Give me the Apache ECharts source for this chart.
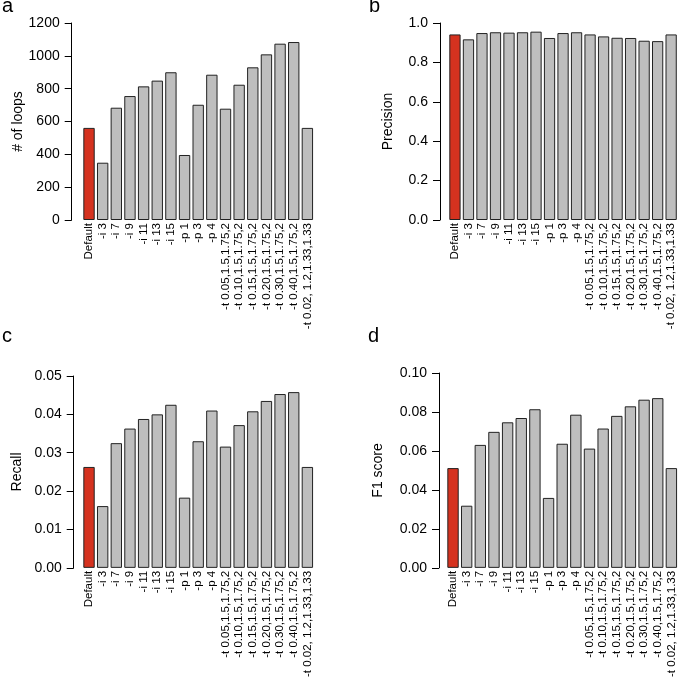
<!DOCTYPE html>
<html>
<head>
<meta charset="utf-8">
<script src="https://cdn.jsdelivr.net/npm/echarts@6/dist/echarts.min.js"></script>
<style>html,body{margin:0;padding:0;background:#fff}#c{width:679px;height:680px}</style>
</head>
<body>
<div id="c"></div>
<script>
const categories = ["Default","-i 3","-i 7","-i 9","-i 11","-i 13","-i 15","-p 1","-p 3","-p 4",
  "-t 0.05,1.5,1.75,2","-t 0.10,1.5,1.75,2","-t 0.15,1.5,1.75,2","-t 0.20,1.5,1.75,2",
  "-t 0.30,1.5,1.75,2","-t 0.40,1.5,1.75,2","-t 0.02, 1.2,1.33,1.33"];
const loops = [561,349,684,755,814,849,900,396,702,885,678,824,930,1009,1074,1084,561];
const precision = [0.942,0.917,0.949,0.953,0.951,0.953,0.956,0.924,0.949,0.953,0.942,0.932,0.925,0.924,0.910,0.908,0.942];
const recall = [0.0263,0.0161,0.0325,0.0363,0.0388,0.0400,0.0425,0.0183,0.0330,0.0410,0.0316,0.0372,0.0408,0.0435,0.0453,0.0458,0.0263];
const f1 = [0.0512,0.0319,0.0631,0.0698,0.0747,0.0769,0.0814,0.0359,0.0637,0.0786,0.0612,0.0715,0.0780,0.0829,0.0863,0.0871,0.0512];
const yTicksA = [0,1200,200], yTicksB = [0,1,0.2], yTicksC = [0,0.05,0.01], yTicksD = [0,0.1,0.02];

const FONT = "'Liberation Sans', Arial, Helvetica, sans-serif";
const RED = '#D5321F', GRAY = '#BEBEBE';

const grids = [
  {left: 82.2, top: 23, width: 232, height: 197},
  {left: 448.2, top: 23, width: 229.7, height: 197},
  {left: 82.2, top: 376, width: 232, height: 197},
  {left: 446.2, top: 373, width: 232, height: 197}
];
const yDefs = [
  {t: yTicksA, dec: 0, name: '# of loops', gap: 47, off: 10.5},
  {t: yTicksB, dec: 1, name: 'Precision', gap: 45, off: 8.2},
  {t: yTicksC, dec: 2, name: 'Recall', gap: 50, off: 8.5},
  {t: yTicksD, dec: 2, name: 'F1 score', gap: 54, off: 7.2}
];
const dataSets = [loops, precision, recall, f1];

const option = {
  animation: false,
  backgroundColor: '#fff',
  textStyle: {fontFamily: FONT},
  grid: grids.map(g => Object.assign({containLabel: false}, g)),
  xAxis: grids.map((g, i) => ({
    type: 'category', gridIndex: i, data: categories, boundaryGap: true,
    axisLine: {show: false}, axisTick: {show: false}, splitLine: {show: false},
    axisLabel: {rotate: 90, interval: 0, fontSize: 11.5, color: '#000', margin: 3, fontFamily: FONT}
  })),
  yAxis: yDefs.map((d, i) => ({
    type: 'value', gridIndex: i, min: d.t[0], max: d.t[1], interval: d.t[2],
    offset: d.off,
    name: d.name, nameLocation: 'middle', nameGap: d.gap, nameMoveOverlap: false,
    nameTextStyle: {fontSize: 14, color: '#000', fontFamily: FONT},
    axisLine: {show: true, lineStyle: {color: '#000', width: 1}},
    axisTick: {show: true, length: 7, lineStyle: {color: '#000', width: 1}},
    splitLine: {show: false},
    axisLabel: {fontSize: 14, color: '#000', margin: 12, fontFamily: FONT,
      formatter: v => v.toFixed(d.dec)}
  })),
  series: dataSets.map((arr, i) => ({
    type: 'bar', xAxisIndex: i, yAxisIndex: i, barCategoryGap: '16.67%',
    data: arr.map((v, j) => ({value: v, itemStyle: {color: j === 0 ? RED : GRAY}})),
    itemStyle: {borderColor: '#222', borderWidth: 1}
  })),
  graphic: [
    {type: 'text', left: 2, top: -4, style: {text: 'a', fontSize: 20, fontFamily: FONT, fill: '#000'}},
    {type: 'text', left: 369, top: -4, style: {text: 'b', fontSize: 20, fontFamily: FONT, fill: '#000'}},
    {type: 'text', left: 2, top: 326, style: {text: 'c', fontSize: 20, fontFamily: FONT, fill: '#000'}},
    {type: 'text', left: 368, top: 326, style: {text: 'd', fontSize: 20, fontFamily: FONT, fill: '#000'}}
  ]
};
const chart = echarts.init(document.getElementById('c'));
chart.setOption(option);
</script>
</body>
</html>
